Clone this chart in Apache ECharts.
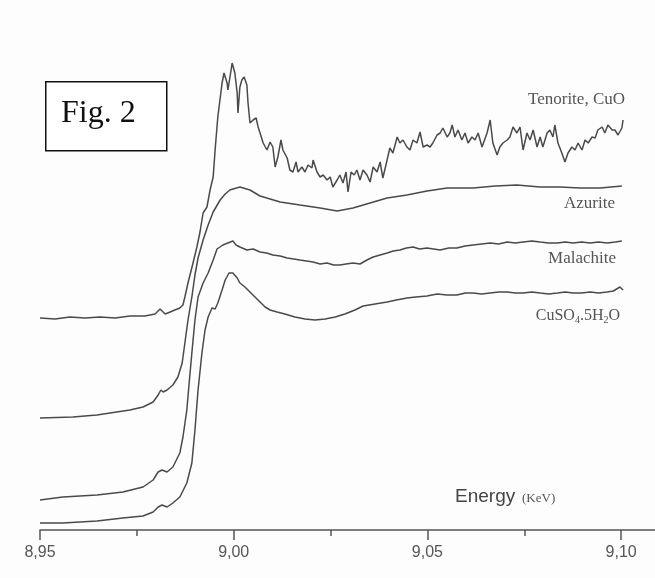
<!DOCTYPE html>
<html><head><meta charset="utf-8">
<script src="https://cdn.jsdelivr.net/npm/echarts@6/dist/echarts.min.js"></script>
<style>html,body{margin:0;padding:0;background:#fdfdfd}#c{width:655px;height:578px}</style>
</head><body><div id="c"></div>
<script>
// Energy (keV) and offset absorbance (arbitrary units)
const tenoriteE = [8.9500,8.9539,8.9577,8.9616,8.9655,8.9694,8.9732,8.9771,8.9797,8.9810,8.9823,8.9836,8.9848,8.9861,8.9869,8.9874,8.9882,8.9895,8.9905,8.9913,8.9921,8.9931,8.9939,8.9947,8.9952,8.9959,8.9970,8.9975,8.9983,8.9985,8.9990,8.9996,9.0003,9.0009,9.0011,9.0016,9.0021,9.0027,9.0034,9.0037,9.0042,9.0050,9.0058,9.0063,9.0068,9.0076,9.0086,9.0094,9.0101,9.0107,9.0114,9.0122,9.0127,9.0138,9.0145,9.0153,9.0161,9.0166,9.0176,9.0184,9.0192,9.0202,9.0205,9.0215,9.0223,9.0231,9.0241,9.0249,9.0256,9.0267,9.0274,9.0282,9.0290,9.0295,9.0303,9.0311,9.0318,9.0326,9.0334,9.0344,9.0352,9.0360,9.0370,9.0378,9.0385,9.0396,9.0403,9.0411,9.0422,9.0429,9.0437,9.0447,9.0455,9.0463,9.0473,9.0481,9.0489,9.0499,9.0507,9.0514,9.0525,9.0533,9.0540,9.0551,9.0558,9.0564,9.0571,9.0579,9.0589,9.0597,9.0605,9.0615,9.0623,9.0631,9.0641,9.0654,9.0662,9.0669,9.0680,9.0687,9.0695,9.0706,9.0713,9.0721,9.0731,9.0739,9.0747,9.0757,9.0765,9.0773,9.0783,9.0791,9.0798,9.0809,9.0816,9.0824,9.0829,9.0837,9.0847,9.0855,9.0863,9.0873,9.0881,9.0889,9.0899,9.0907,9.0915,9.0925,9.0933,9.0940,9.0951,9.0958,9.0966,9.0977,9.0984,9.0992,9.1002,9.1005];
const tenoriteV = [212,211,213,212,213,212,214,214,216,221,216,218,220,222,225,233,247,267,283,298,317,323,340,353,380,413,447,457,447,440,452,467,457,437,417,443,450,453,445,427,407,410,412,403,397,387,380,388,383,363,373,390,380,372,360,358,368,358,363,358,365,362,370,358,353,355,350,353,343,350,355,347,358,338,358,355,360,350,360,355,348,363,358,368,352,370,382,377,393,387,390,383,380,390,387,398,383,385,383,387,395,397,402,393,397,405,393,400,390,397,387,393,390,397,383,397,410,387,375,383,387,390,393,403,397,403,380,397,390,400,383,393,383,397,400,393,405,387,377,368,377,383,380,387,380,390,387,393,392,400,403,397,405,400,400,395,402,410];

const azuriteE = [8.9500,8.9585,8.9647,8.9732,8.9766,8.9792,8.9805,8.9812,8.9818,8.9828,8.9843,8.9856,8.9867,8.9874,8.9882,8.9892,8.9900,8.9908,8.9921,8.9934,8.9947,8.9965,8.9978,8.9990,9.0016,9.0042,9.0068,9.0094,9.0120,9.0171,9.0223,9.0267,9.0308,9.0352,9.0396,9.0447,9.0499,9.0551,9.0618,9.0675,9.0731,9.0791,9.0842,9.0894,9.0946,9.1002];
const azuriteV = [112,113,115,120,123,128,135,140,138,140,145,153,167,187,210,233,255,272,290,305,318,330,336,340,343,340,334,331,328,325,322,319,322,327,332,335,339,342,342,344,345,343,343,342,342,344];

const malachiteE = [8.9500,8.9559,8.9647,8.9714,8.9766,8.9792,8.9805,8.9815,8.9828,8.9843,8.9861,8.9869,8.9879,8.9885,8.9892,8.9900,8.9908,8.9921,8.9934,8.9947,8.9957,8.9972,8.9985,8.9998,9.0006,9.0016,9.0034,9.0050,9.0068,9.0085,9.0101,9.0120,9.0138,9.0155,9.0171,9.0188,9.0205,9.0223,9.0241,9.0258,9.0274,9.0290,9.0308,9.0326,9.0344,9.0360,9.0378,9.0396,9.0412,9.0429,9.0446,9.0463,9.0480,9.0499,9.0516,9.0533,9.0555,9.0576,9.0597,9.0618,9.0640,9.0662,9.0684,9.0706,9.0727,9.0747,9.0770,9.0791,9.0813,9.0835,9.0856,9.0876,9.0898,9.0920,9.0942,9.0964,9.0985,9.1002];
const malachiteV = [30,33,35,38,43,50,58,60,58,63,77,93,120,147,177,210,233,247,257,270,281,285,287,289,285,283,280,281,278,277,275,274,272,271,270,269,268,266,267,265,265,266,267,266,270,273,275,277,279,280,282,283,281,282,281,280,282,282,284,285,286,287,286,288,287,288,289,288,287,287,288,287,288,287,288,287,288,289];

const cuso4E = [8.9500,8.9559,8.9647,8.9714,8.9766,8.9792,8.9805,8.9815,8.9828,8.9843,8.9861,8.9879,8.9892,8.9900,8.9908,8.9918,8.9926,8.9934,8.9944,8.9952,8.9959,8.9970,8.9978,8.9988,8.9998,9.0009,9.0016,9.0029,9.0042,9.0055,9.0068,9.0081,9.0094,9.0112,9.0132,9.0158,9.0184,9.0210,9.0236,9.0262,9.0287,9.0313,9.0334,9.0365,9.0396,9.0420,9.0447,9.0470,9.0499,9.0525,9.0551,9.0576,9.0598,9.0618,9.0640,9.0662,9.0684,9.0706,9.0727,9.0747,9.0770,9.0791,9.0813,9.0835,9.0856,9.0876,9.0898,9.0920,9.0942,9.0964,9.0980,9.0997,9.1005];
const cuso4V = [7,7,9,12,14,18,23,25,23,27,33,47,67,100,140,177,200,213,222,221,227,240,250,257,257,252,247,243,238,233,228,223,220,218,216,213,211,210,211,213,216,220,224,226,228,230,232,233,234,236,235,235,237,237,236,237,238,238,237,237,238,237,236,237,238,237,237,238,237,238,239,243,240];

const majorTicks = [8.95, 9.00, 9.05, 9.10];
const minorTicks = [8.975, 9.025, 9.075];
const seriesNames = ['Tenorite, CuO','Azurite','Malachite','CuSO4.5H2O'];

function pairs(e, v){ return e.map((x,i)=>[x, v[i]]); }
const allData = [pairs(tenoriteE,tenoriteV), pairs(azuriteE,azuriteV), pairs(malachiteE,malachiteV), pairs(cuso4E,cuso4V)];

const chart = echarts.init(document.getElementById('c'), null, {renderer:'canvas'});
const axisCol = '#555';
const xMin = 8.95, xMax = 9.10875;
chart.setOption({
  backgroundColor:'#fdfdfd',
  animation:false,
  grid:{left:40, right:0, top:0, bottom:48, containLabel:false},
  xAxis:[{
    type:'value', position:'bottom', min:xMin, max:xMax,
    axisLine:{show:true, lineStyle:{color:axisCol, width:1.5}},
    axisTick:{show:true, length:10, customValues:majorTicks, lineStyle:{color:axisCol, width:1.5}},
    splitLine:{show:false},
    axisLabel:{show:true, customValues:majorTicks, color:'#555', fontSize:16, fontFamily:'Liberation Sans, Arial, sans-serif', margin:15,
      formatter:function(v){ return v.toFixed(2).replace('.',','); }}
  },{
    type:'value', position:'bottom', min:xMin, max:xMax,
    axisLine:{show:false}, axisLabel:{show:false}, splitLine:{show:false},
    axisTick:{show:true, length:6, customValues:minorTicks, lineStyle:{color:axisCol, width:1.5}}
  }],
  yAxis:{type:'value', min:0, max:530, show:false, splitLine:{show:false}},
  series: allData.map((d,i)=>({
    name:seriesNames[i], type:'line', data:d, showSymbol:false, symbol:'none',
    xAxisIndex:0, lineStyle:{color:'#4a4a4a', width:1.5}, z:2
  })),
  graphic:[
    {type:'rect', left:45, top:81, shape:{width:121, height:69}, style:{fill:'#fff', stroke:'#111', lineWidth:1.5}},
    {type:'text', left:61, top:98, style:{text:'Fig. 2', font:'32px "Liberation Serif", "Times New Roman", serif', fill:'#111'}},
    {type:'text', right:30, top:91, style:{text:'Tenorite, CuO', font:'17px "Liberation Serif", serif', fill:'#555', align:'right'}},
    {type:'text', right:40, top:195, style:{text:'Azurite', font:'17px "Liberation Serif", serif', fill:'#555'}},
    {type:'text', right:39, top:250, style:{text:'Malachite', font:'17px "Liberation Serif", serif', fill:'#555'}},
    {type:'text', right:35, top:308, style:{text:'CuSO{s|4}.5H{s|2}O', font:'16px "Liberation Serif", serif', fill:'#555',
      rich:{s:{fontSize:10, fontFamily:'Liberation Serif', fill:'#555', padding:[9,0,0,0]}}}},
    {type:'text', left:455, top:487, style:{text:'Energy', font:'19px "Liberation Sans", Arial, sans-serif', fill:'#444'}},
    {type:'text', left:522, top:492, style:{text:'(KeV)', font:'13px "Liberation Serif", serif', fill:'#555'}}
  ]
});
</script></body></html>
